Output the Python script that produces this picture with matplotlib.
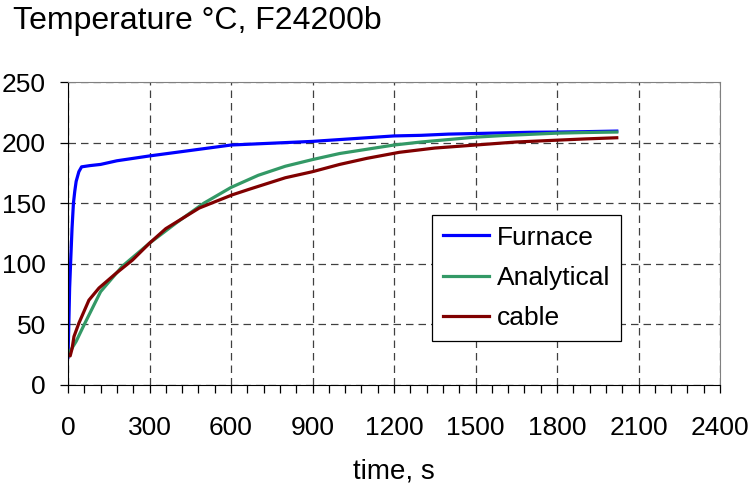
import matplotlib
matplotlib.use("Agg")
import matplotlib.pyplot as plt
import matplotlib.ticker as ticker

plt.rcParams['font.family'] = ['Liberation Sans', 'DejaVu Sans']

# Furnace (blue)
furnace_t = [0, 3, 6, 10, 15, 20, 25, 30, 40, 50, 80, 120, 180, 240, 300, 400, 500,
             600, 700, 800, 900, 1000, 1100, 1200, 1300, 1400, 1500, 1600, 1700,
             1800, 1900, 2020]
furnace_T = [23, 50, 80, 103, 130, 150, 160, 168, 176, 180, 181, 182, 185, 187, 189,
             192, 195, 198, 199, 200, 201, 202.5, 204, 205.5, 206, 207, 207.5, 208,
             208.5, 208.7, 209, 209.5]

# Analytical (green)
analytical_t = [0, 30, 60, 120, 200, 300, 400, 500, 600, 700, 800, 900, 1000, 1100,
                1200, 1300, 1400, 1500, 1600, 1700, 1800, 1900, 2020]
analytical_T = [25, 36, 50, 77, 98, 117, 134, 150, 163, 173, 180.5, 186, 191, 194.5,
                198, 200.5, 202.5, 204.5, 205.8, 206.8, 207.8, 208.3, 208.7]

# cable (dark red)
cable_t = [0, 8, 15, 22, 40, 77, 114, 176, 237, 300, 360, 483, 606, 667, 800, 900,
           1000, 1100, 1220, 1350, 1500, 1650, 1800, 1900, 2020]
cable_T = [25, 24, 30, 40, 51, 70, 80, 92, 103, 117, 129, 146, 157, 161.5, 171, 176,
           182, 187, 192, 195.5, 198, 200.5, 202, 203, 204]

fig = plt.figure(figsize=(7.49, 4.93), dpi=100)
ax = fig.add_axes([68 / 749, 1 - 385 / 493, (720 - 68) / 749, (385 - 82) / 493])

ax.plot(furnace_t, furnace_T, color="#0000FF", linewidth=2.3, label="Furnace")
ax.plot(analytical_t, analytical_T, color="#339966", linewidth=2.3, label="Analytical")
ax.plot(cable_t, cable_T, color="#800000", linewidth=2.3, label="cable")

ax.set_xlim(0, 2400)
ax.set_ylim(0, 250)
ax.xaxis.set_major_locator(ticker.MultipleLocator(300))
ax.xaxis.set_minor_locator(ticker.MultipleLocator(60))
ax.yaxis.set_major_locator(ticker.MultipleLocator(50))

ax.grid(True, which="major", color="#404040", linestyle=(0, (6, 4)), linewidth=0.9)
ax.set_axisbelow(True)

ax.tick_params(axis="x", which="both", direction="out", length=6, width=0.9,
               labelsize=19, pad=16)
ax.tick_params(axis="y", which="major", direction="out", length=6, width=0.9,
               labelsize=19, pad=10)

for s in ("top", "right"):
    ax.spines[s].set_color("#808080")
for s in ("left", "bottom"):
    ax.spines[s].set_color("black")

ax.set_xlabel("time, s", fontsize=20, labelpad=14)
fig.text(13 / 749, 1 - 21 / 493, "Temperature \u00b0C, F24200b", fontsize=23,
         ha="left", va="center")

leg = ax.legend(loc="upper left", bbox_to_anchor=(432 / 749, 1 - 215 / 493),
                bbox_transform=fig.transFigure, borderaxespad=0, fontsize=19,
                frameon=True, fancybox=False, shadow=False, handlelength=1.75,
                handletextpad=0.3, labelspacing=0.62, borderpad=0.4)
leg.get_frame().set_edgecolor("black")
leg.get_frame().set_linewidth(0.9)
leg.get_frame().set_alpha(1)

fig.savefig("out.png", dpi=100)
